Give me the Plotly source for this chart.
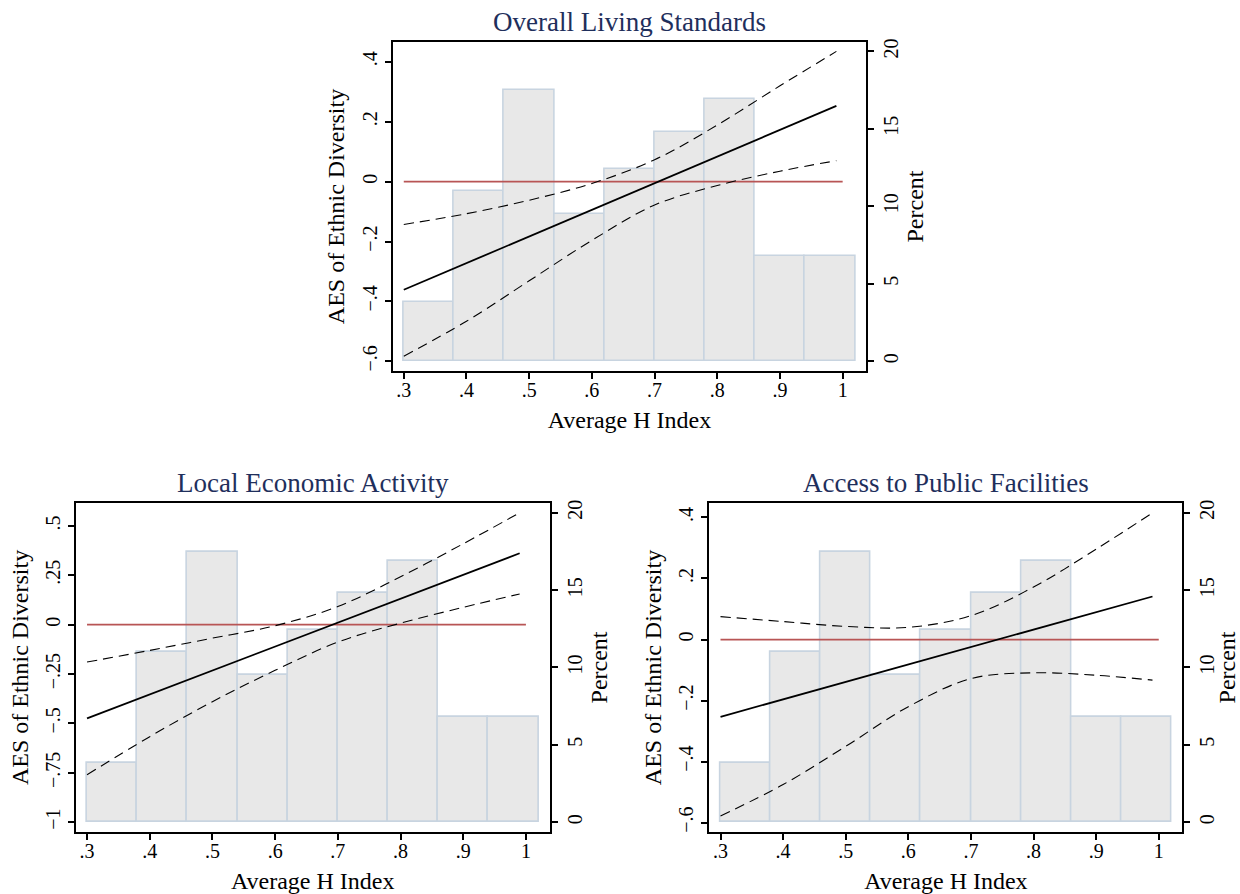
import plotly.graph_objects as go

# ---------------- data ----------------
hist_left = [0.30, 0.38, 0.46, 0.54, 0.62, 0.70, 0.78, 0.86, 0.94]
hist_width = 0.08
hist_percent = [3.8, 11.0, 17.5, 9.5, 12.4, 14.8, 16.9, 6.8, 6.8]

h_grid = [0.30, 0.40, 0.50, 0.60, 0.70, 0.80, 0.90, 0.99]

# Overall Living Standards
ols_est = [-0.361, -0.272, -0.183, -0.094, -0.005, 0.084, 0.173, 0.253]
ols_upper = [-0.143, -0.107, -0.062, -0.006, 0.073, 0.189, 0.320, 0.435]
ols_lower = [-0.583, -0.466, -0.331, -0.196, -0.078, -0.013, 0.035, 0.070]

# Local Economic Activity
lea_est = [-0.474, -0.353, -0.232, -0.111, 0.010, 0.131, 0.252, 0.362]
lea_upper = [-0.189, -0.130, -0.068, -0.005, 0.092, 0.243, 0.410, 0.567]
lea_lower = [-0.760, -0.567, -0.390, -0.231, -0.088, 0.008, 0.088, 0.156]

# Access to Public Facilities
apf_est = [-0.253, -0.196, -0.139, -0.082, -0.025, 0.032, 0.089, 0.141]
apf_upper = [0.075, 0.059, 0.043, 0.040, 0.078, 0.172, 0.296, 0.415]
apf_lower = [-0.578, -0.475, -0.350, -0.220, -0.128, -0.109, -0.117, -0.133]

ref_x = [0.3, 1.0]
ref_y = [0, 0]

x_ticks = [0.3, 0.4, 0.5, 0.6, 0.7, 0.8, 0.9, 1.0]
x_ticktext = [".3", ".4", ".5", ".6", ".7", ".8", ".9", "1"]
pct_ticks = [0, 5, 10, 15, 20]

ols_yticks = [-0.6, -0.4, -0.2, 0, 0.2, 0.4]
ols_yticktext = ["\u2212.6", "\u2212.4", "\u2212.2", "0", ".2", ".4"]
lea_yticks = [-1, -0.75, -0.5, -0.25, 0, 0.25, 0.5]
lea_yticktext = ["\u22121", "\u2212.75", "\u2212.5", "\u2212.25", "0", ".25", ".5"]
apf_yticks = [-0.6, -0.4, -0.2, 0, 0.2, 0.4]
apf_yticktext = ["\u2212.6", "\u2212.4", "\u2212.2", "0", ".2", ".4"]

titles = ["Overall Living Standards", "Local Economic Activity", "Access to Public Facilities"]

# ---------------- layout geometry (pixels) ----------------
W, H = 1240, 894
panels = [
    dict(x0=393, x1=867, y0=38.3, y1=369.0, yr=[-0.632, 0.466], pr=[-0.62, 20.6],
         est=ols_est, up=ols_upper, lo=ols_lower, yt=ols_yticks, ytt=ols_yticktext),
    dict(x0=76, x1=550, y0=501.7, y1=832.7, yr=[-1.05, 0.617], pr=[-0.64, 20.64],
         est=lea_est, up=lea_upper, lo=lea_lower, yt=lea_yticks, ytt=lea_yticktext),
    dict(x0=710, x1=1183.3, y0=501.7, y1=832.7, yr=[-0.6306, 0.4476], pr=[-0.64, 20.64],
         est=apf_est, up=apf_upper, lo=apf_lower, yt=apf_yticks, ytt=apf_yticktext),
]

FONT = "Liberation Serif, Times New Roman, serif"
TICKFONT = dict(family=FONT, size=20, color="black")
TITLEFONT = dict(family=FONT, size=24, color="black")

fig = go.Figure()
layout = dict(
    width=W, height=H, autosize=False,
    margin=dict(l=0, r=0, t=0, b=0),
    paper_bgcolor="white", plot_bgcolor="white",
    showlegend=False, bargap=0,
    annotations=[],
)

for i, p in enumerate(panels):
    xn = "" if i == 0 else str(i + 1)
    yb = str(2 * i + 1)
    yo = str(2 * i + 2)
    yb_name = "" if yb == "1" else yb
    xref = "x" + xn
    ybref = "y" + yb_name
    yoref = "y" + yo

    # histogram (percent axis, base)
    fig.add_trace(go.Bar(
        x=hist_left, y=hist_percent, width=hist_width, offset=0,
        marker=dict(color="#e8e8e8", line=dict(color="#c8d4e0", width=1.6)),
        xaxis=xref, yaxis=ybref, hoverinfo="skip",
    ))
    # reference line
    fig.add_trace(go.Scatter(
        x=ref_x, y=ref_y, mode="lines",
        line=dict(color="#b85555", width=1.8),
        xaxis=xref, yaxis=yoref,
    ))
    # CI bounds
    for band in (p["up"], p["lo"]):
        fig.add_trace(go.Scatter(
            x=h_grid, y=band, mode="lines", line_shape="spline",
            line=dict(color="black", width=1.1, dash="10px,6px"),
            xaxis=xref, yaxis=yoref,
        ))
    # estimate
    fig.add_trace(go.Scatter(
        x=h_grid, y=p["est"], mode="lines",
        line=dict(color="black", width=1.8),
        xaxis=xref, yaxis=yoref,
    ))

    dx = [p["x0"] / W, p["x1"] / W]
    dy = [1 - p["y1"] / H, 1 - p["y0"] / H]

    layout["xaxis" + xn] = dict(
        domain=dx, anchor=ybref, range=[0.2823, 1.0377],
        tickvals=x_ticks, ticktext=x_ticktext, tickfont=TICKFONT,
        ticks="outside", ticklen=6, tickwidth=1.5, tickcolor="black",
        ticklabelstandoff=-6,
        showline=True, linecolor="black", linewidth=2, mirror=True,
        showgrid=False, zeroline=False,
        title=dict(text="Average H Index", font=TITLEFONT, standoff=11),
    )
    layout["yaxis" + yb_name] = dict(
        domain=dy, anchor=xref, side="right", range=p["pr"],
        tickvals=pct_ticks, tickfont=TICKFONT, tickangle=-90,
        ticks="outside", ticklen=6, tickwidth=1.5, tickcolor="black",
        showline=True, linecolor="black", linewidth=2, mirror=True,
        showgrid=False, zeroline=False,
        title=dict(text="Percent", font=TITLEFONT, standoff=5),
    )
    layout["yaxis" + yo] = dict(
        domain=dy, anchor=xref, overlaying=ybref, side="left", range=p["yr"],
        tickvals=p["yt"], ticktext=p["ytt"], tickfont=TICKFONT, tickangle=-90,
        ticks="outside", ticklen=6, tickwidth=1.5, tickcolor="black",
        showline=True, linecolor="black", linewidth=2,
        showgrid=False, zeroline=False,
        title=dict(text="AES of Ethnic Diversity", font=TITLEFONT, standoff=7),
    )
    layout["annotations"].append(dict(
        text=titles[i], xref="paper", yref="paper",
        x=(p["x0"] + p["x1"]) / 2 / W, y=1 - (p["y0"] - 20) / H,
        xanchor="center", yanchor="middle", showarrow=False,
        font=dict(family=FONT, size=27, color="#1f2f5c"),
    ))

fig.update_layout(**layout)

fig.write_html(
    "out.html",
    config={"displayModeBar": False},
    post_script="document.body.style.margin='0';document.body.style.overflow='hidden';",
)
